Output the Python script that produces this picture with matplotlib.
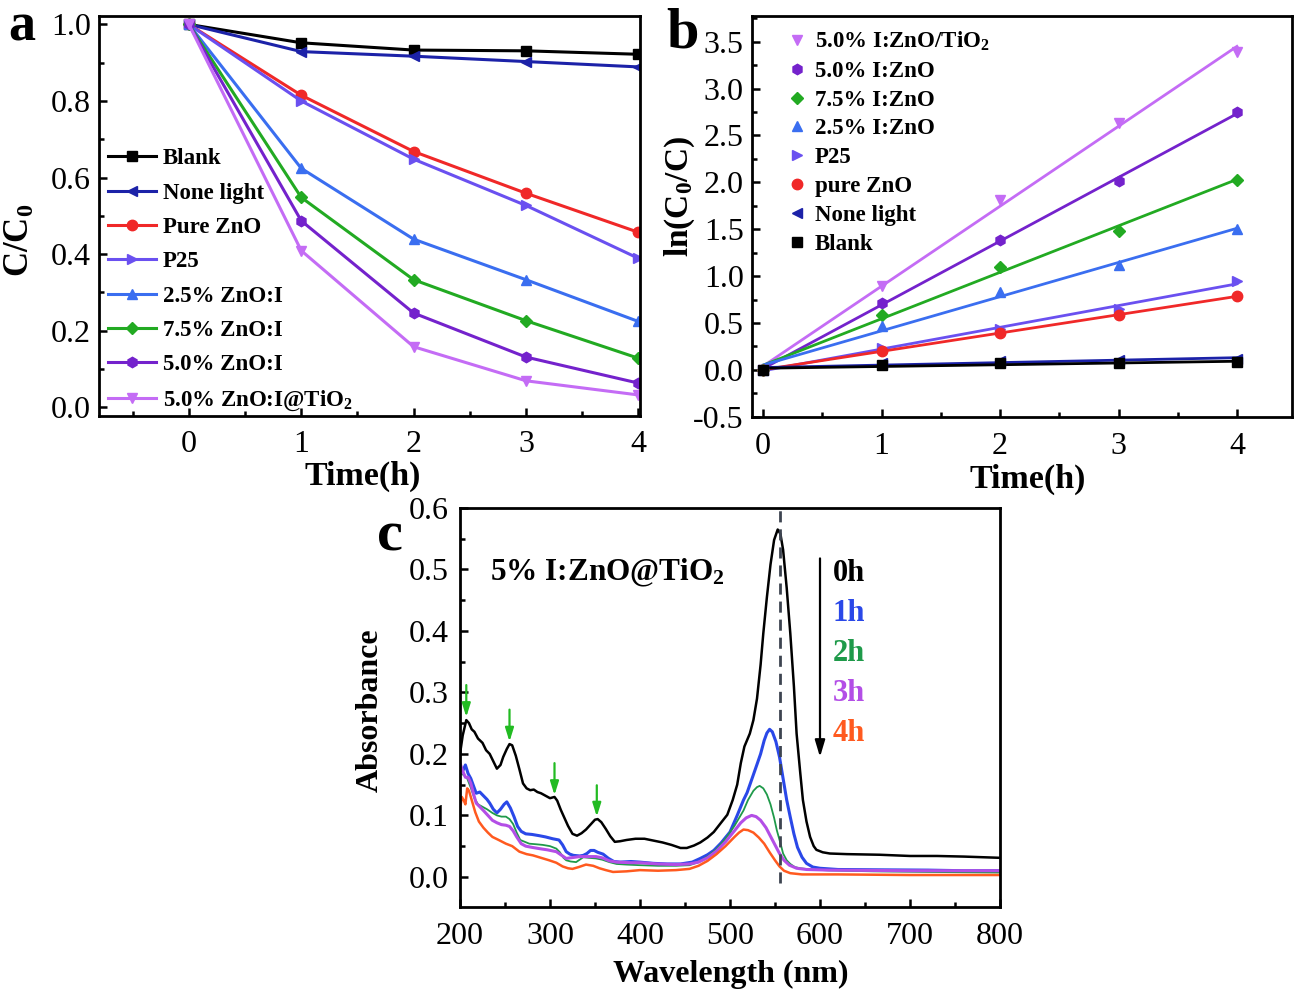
import numpy as np
import matplotlib
matplotlib.use("Agg")
import matplotlib.pyplot as plt
from matplotlib.ticker import MultipleLocator, FormatStrFormatter

plt.rcParams['font.family'] = ['Liberation Serif', 'DejaVu Serif']
plt.rcParams['mathtext.fontset'] = 'custom'
plt.rcParams['mathtext.rm'] = 'Liberation Serif'
plt.rcParams['mathtext.bf'] = 'Liberation Serif:bold'
plt.rcParams['mathtext.it'] = 'Liberation Serif:italic'

# ---------------- data: panel a ----------------
time_h = [0, 1, 2, 3, 4]
a_labels = ["Blank", "None light", "Pure ZnO", "P25", "2.5% ZnO:I", "7.5% ZnO:I",
            "5.0% ZnO:I", r"5.0% ZnO:I@TiO$_\mathbf{2}$"]
cc_blank = [1.0, 0.952, 0.933, 0.931, 0.922]
cc_none = [1.0, 0.929, 0.917, 0.903, 0.889]
cc_zno = [1.0, 0.815, 0.668, 0.559, 0.457]
cc_p25 = [1.0, 0.800, 0.648, 0.527, 0.389]
cc_25 = [1.0, 0.624, 0.439, 0.333, 0.224]
cc_75 = [1.0, 0.548, 0.333, 0.226, 0.128]
cc_50 = [1.0, 0.487, 0.246, 0.131, 0.063]
cc_tio2 = [1.0, 0.409, 0.158, 0.069, 0.032]

# ---------------- data: panel b ----------------
b_labels = [r"5.0% I:ZnO/TiO$_\mathbf{2}$", "5.0% I:ZnO", "7.5% I:ZnO", "2.5% I:ZnO",
            "P25", "pure ZnO", "None light", "Blank"]
ln_tio2 = [0.0, 0.892, 1.81, 2.635, 3.39]
ln_50 = [0.0, 0.715, 1.39, 2.01, 2.75]
ln_75 = [0.0, 0.59, 1.10, 1.483, 2.03]
ln_25 = [0.0, 0.466, 0.825, 1.116, 1.497]
ln_p25 = [0.0, 0.228, 0.44, 0.654, 0.946]
ln_zno = [0.0, 0.20, 0.395, 0.583, 0.786]
ln_none = [0.0, 0.075, 0.090, 0.102, 0.118]
ln_blank = [0.0, 0.050, 0.068, 0.072, 0.082]

# ---------------- data: panel c ----------------
wl_0h = [200, 203, 207, 210, 213, 216, 220, 225, 229, 233, 237, 241, 245, 248, 252, 255, 258,
         262, 266, 270, 274, 278, 282, 286, 290, 295, 300, 305, 308, 312, 316, 320, 325, 330,
         335, 340, 345, 350, 353, 357, 362, 367, 372, 378, 385, 395, 405, 415, 425, 435, 445,
         452, 460, 467, 475, 482, 490, 497, 503, 508, 512, 516, 522, 526, 530, 534, 537, 541,
         545, 549, 553, 556, 559, 563, 567, 571, 574, 578, 581, 585, 589, 593, 596, 603, 611,
         630, 666, 700, 730, 760, 780, 800]
ab_0h = [0.200, 0.230, 0.255, 0.250, 0.240, 0.236, 0.225, 0.218, 0.206, 0.200, 0.188, 0.176,
         0.182, 0.195, 0.208, 0.216, 0.214, 0.197, 0.175, 0.152, 0.144, 0.141, 0.142, 0.138,
         0.136, 0.132, 0.128, 0.130, 0.124, 0.109, 0.096, 0.083, 0.070, 0.067, 0.071, 0.077,
         0.085, 0.093, 0.094, 0.089, 0.078, 0.066, 0.057, 0.058, 0.060, 0.062, 0.062, 0.059,
         0.056, 0.052, 0.047, 0.047, 0.051, 0.056, 0.064, 0.073, 0.088, 0.101, 0.125, 0.150,
         0.185, 0.212, 0.233, 0.255, 0.290, 0.345, 0.396, 0.455, 0.508, 0.548, 0.565, 0.558,
         0.532, 0.470, 0.396, 0.310, 0.233, 0.170, 0.125, 0.090, 0.065, 0.050, 0.044, 0.040,
         0.038, 0.037, 0.036, 0.034, 0.034, 0.033, 0.032, 0.031]

wl_1h = [200, 203, 206, 209, 212, 215, 218, 222, 226, 230, 233, 237, 241, 245, 249, 252, 256,
         260, 264, 268, 273, 280, 288, 295, 303, 310, 314, 318, 322, 326, 333, 337, 341, 345,
         349, 353, 359, 365, 371, 378, 390, 400, 415, 430, 445, 458, 467, 475, 482, 490, 500,
         508, 515, 519, 525, 530, 534, 538, 541, 544, 547, 551, 555, 559, 563, 567, 571, 575,
         580, 585, 592, 600, 620, 666, 720, 760, 800]
ab_1h = [0.175, 0.172, 0.182, 0.168, 0.160, 0.148, 0.136, 0.138, 0.132, 0.126, 0.120, 0.110,
         0.104, 0.110, 0.118, 0.122, 0.112, 0.098, 0.082, 0.074, 0.070, 0.069, 0.067, 0.065,
         0.062, 0.060, 0.052, 0.041, 0.037, 0.035, 0.034, 0.035, 0.038, 0.043, 0.043, 0.040,
         0.037, 0.030, 0.025, 0.024, 0.025, 0.024, 0.022, 0.021, 0.021, 0.024, 0.030, 0.036,
         0.043, 0.055, 0.073, 0.100, 0.125, 0.137, 0.162, 0.183, 0.200, 0.222, 0.234, 0.240,
         0.236, 0.220, 0.195, 0.160, 0.125, 0.097, 0.070, 0.048, 0.032, 0.022, 0.016, 0.014,
         0.012, 0.0115, 0.011, 0.010, 0.010]

wl_2h = [200, 204, 208, 212, 216, 220, 225, 230, 236, 241, 246, 251, 255, 259, 263, 267, 272,
         277, 285, 292, 300, 307, 311, 315, 318, 323, 329, 333, 337, 343, 351, 358, 366, 374,
         385, 400, 420, 440, 455, 465, 475, 485, 495, 505, 515, 520, 526, 530, 533, 537, 541,
         545, 549, 552, 556, 559, 563, 567, 572, 578, 590, 610, 660, 720, 800]
ab_2h = [0.168, 0.166, 0.160, 0.145, 0.128, 0.118, 0.114, 0.110, 0.104, 0.100, 0.098, 0.098,
         0.094, 0.086, 0.072, 0.060, 0.057, 0.054, 0.053, 0.052, 0.050, 0.046, 0.040, 0.031,
         0.027, 0.025, 0.024, 0.028, 0.032, 0.031, 0.030, 0.028, 0.024, 0.021, 0.020, 0.019,
         0.018, 0.018, 0.019, 0.024, 0.033, 0.045, 0.062, 0.083, 0.108, 0.125, 0.140, 0.146,
         0.148, 0.144, 0.134, 0.118, 0.096, 0.076, 0.055, 0.038, 0.027, 0.021, 0.016, 0.014,
         0.012, 0.0105, 0.009, 0.008, 0.007]

wl_3h = [200, 203, 206, 209, 212, 215, 218, 222, 226, 231, 236, 241, 246, 251, 255, 259, 263,
         268, 273, 280, 288, 297, 307, 312, 318, 323, 333, 343, 351, 358, 366, 374, 390, 400,
         420, 440, 455, 465, 475, 485, 495, 505, 512, 518, 524, 529, 534, 540, 545, 550, 555,
         560, 566, 574, 585, 610, 700, 800]
ab_3h = [0.185, 0.172, 0.162, 0.162, 0.152, 0.135, 0.120, 0.114, 0.108, 0.100, 0.092, 0.088,
         0.085, 0.084, 0.082, 0.075, 0.065, 0.054, 0.050, 0.048, 0.046, 0.044, 0.041, 0.036,
         0.030, 0.031, 0.033, 0.033, 0.033, 0.031, 0.026, 0.024, 0.023, 0.023, 0.021, 0.020,
         0.021, 0.024, 0.031, 0.042, 0.057, 0.075, 0.088, 0.096, 0.100, 0.098, 0.092, 0.080,
         0.066, 0.052, 0.038, 0.027, 0.019, 0.014, 0.012, 0.011, 0.010, 0.010]

wl_4h = [200, 202, 204, 206, 208, 210, 213, 217, 221, 226, 231, 236, 243, 251, 258, 266, 274,
         281, 290, 299, 307, 314, 320, 325, 332, 340, 348, 355, 362, 370, 385, 400, 420, 440,
         455, 465, 475, 485, 495, 505, 510, 515, 520, 526, 532, 538, 544, 550, 555, 560, 567,
         580, 620, 700, 800]
ab_4h = [0.110, 0.130, 0.125, 0.118, 0.144, 0.140, 0.125, 0.105, 0.090, 0.080, 0.072, 0.065,
         0.060, 0.054, 0.050, 0.041, 0.037, 0.035, 0.031, 0.027, 0.023, 0.017, 0.014, 0.013,
         0.016, 0.020, 0.018, 0.014, 0.011, 0.008, 0.009, 0.011, 0.010, 0.011, 0.013, 0.018,
         0.026, 0.037, 0.050, 0.065, 0.072, 0.077, 0.076, 0.072, 0.064, 0.054, 0.040, 0.027,
         0.017, 0.010, 0.006, 0.004, 0.004, 0.003, 0.003]

c_labels = ["0h", "1h", "2h", "3h", "4h"]
peak_nm = 555
arrow_nm = [207, 255, 305, 352]
arrow_top = [0.312, 0.272, 0.185, 0.149]
arrow_tip = [0.260, 0.220, 0.133, 0.098]

# ---------------- styles ----------------
a_colors = ['#000000', '#1c22a8', '#f02828', '#6a50f0', '#3a6ef0', '#22aa22', '#7422cc', '#c46cf5']
a_markers = ['s', '<', 'o', '>', '^', 'D', 'h', 'v']
b_colors = ['#c46cf5', '#7422cc', '#22aa22', '#3a6ef0', '#6a50f0', '#f02828', '#1c22a8', '#000000']
b_markers = ['v', 'h', 'D', '^', '>', 'o', '<', 's']
c_colors = ['#000000', '#2a48e8', '#1f9a4a', '#b34ee6', '#ff5a1f']

W, H = 1299, 994
fig = plt.figure(figsize=(W / 100, H / 100), dpi=100)


def ax_px(l, t, r, b):
    return fig.add_axes([l / W, 1 - b / H, (r - l) / W, (b - t) / H])


def style_axes(ax, xmaj, xmin, ymaj, ymin, xpad, ypad):
    for s in ax.spines.values():
        s.set_linewidth(2.0)
    ax.xaxis.set_major_locator(MultipleLocator(xmaj))
    ax.xaxis.set_minor_locator(MultipleLocator(xmin))
    ax.yaxis.set_major_locator(MultipleLocator(ymaj))
    ax.yaxis.set_minor_locator(MultipleLocator(ymin))
    ax.tick_params(which='both', direction='in', top=False, right=False, width=1.8)
    ax.tick_params(which='major', length=6, labelsize=23)
    ax.tick_params(which='minor', length=3.5)
    ax.tick_params(axis='x', which='major', pad=xpad)
    ax.tick_params(axis='y', which='major', pad=ypad)


# ---------------- panel a ----------------
axa = ax_px(99, 16, 640, 416)
a_series = [cc_blank, cc_none, cc_zno, cc_p25, cc_25, cc_75, cc_50, cc_tio2]
for vals, lab, col, mk in zip(a_series, a_labels, a_colors, a_markers):
    ms = 6 if mk == 'D' else 7.5
    axa.plot(time_h, vals, color=col, marker=mk, ms=ms, lw=2.2, label=lab)
axa.set_xlim(-0.8, 4.015)
axa.set_ylim(-0.023, 1.022)
style_axes(axa, 1, 0.5, 0.2, 0.1, 10, 6)
axa.yaxis.set_major_formatter(FormatStrFormatter('%.1f'))
axa.set_xlabel("Time(h)", fontsize=24.5, fontweight='bold')
axa.xaxis.set_label_coords(0.488, -0.15)
axa.xaxis.label.set_va('center')
axa.set_ylabel(r"C/C$_\mathbf{0}$", fontsize=25, fontweight='bold')
axa.yaxis.set_label_coords(-0.146, 0.44)
axa.yaxis.label.set_va('center')
axa.legend(loc='upper left', bbox_to_anchor=(0.016, 0.669), frameon=False,
           prop={'size': 16.5, 'weight': 'bold'}, handlelength=2.1, handletextpad=0.3,
           labelspacing=0.58, borderpad=0, borderaxespad=0)

# ---------------- panel b ----------------
axb = ax_px(752, 16, 1292, 417)
b_series = [ln_tio2, ln_50, ln_75, ln_25, ln_p25, ln_zno, ln_none, ln_blank]
for vals, lab, col, mk in zip(b_series, b_labels, b_colors, b_markers):
    ms = 6 if mk == 'D' else 7.5
    k, c0 = np.polyfit(time_h, vals, 1)
    fit = np.polyval([k, c0], time_h)
    axb.plot(time_h, fit, color=col, lw=2.0, zorder=2)
    axb.plot(time_h, vals, color=col, marker=mk, ms=ms, ls='none', label=lab, zorder=3)
axb.set_xlim(-0.095, 4.465)
axb.set_ylim(-0.503, 3.774)
style_axes(axb, 1, 0.5, 0.5, 0.25, 11, 6)
axb.yaxis.set_major_formatter(FormatStrFormatter('%.1f'))
axb.set_xlabel("Time(h)", fontsize=24.5, fontweight='bold')
axb.xaxis.set_label_coords(0.511, -0.155)
axb.xaxis.label.set_va('center')
axb.set_ylabel(r"ln(C$_\mathbf{0}$/C)", fontsize=24, fontweight='bold')
axb.yaxis.set_label_coords(-0.133, 0.549)
axb.yaxis.label.set_va('center')
axb.legend(loc='upper left', bbox_to_anchor=(0.063, 0.966), frameon=False,
           prop={'size': 16.5, 'weight': 'bold'}, handlelength=1.0, handletextpad=0.25,
           labelspacing=0.34, borderpad=0, borderaxespad=0)

# ---------------- panel c ----------------
axc = ax_px(460, 508, 1000, 907)
c_wl = [wl_0h, wl_1h, wl_2h, wl_3h, wl_4h]
c_ab = [ab_0h, ab_1h, ab_2h, ab_3h, ab_4h]
c_lw = [1.8, 2.2, 1.3, 2.2, 1.8]
for wl, ab, col, lw in zip(c_wl, c_ab, c_colors, c_lw):
    axc.plot(wl, ab, color=col, lw=lw)
axc.axvline(peak_nm, ymin=0.06, ymax=1, color='#3d4450', lw=2.0, ls=(0, (4, 2.5)))
for xn, yt, yb in zip(arrow_nm, arrow_top, arrow_tip):
    axc.annotate("", xy=(xn, yb), xytext=(xn, yt),
                 arrowprops=dict(arrowstyle='-|>,head_length=0.8,head_width=0.25',
                                 color='#22bb22', lw=1.6, shrinkA=0, shrinkB=0))
axc.annotate("", xy=(600, 0.195), xytext=(600, 0.518),
             arrowprops=dict(arrowstyle='-|>,head_length=1.0,head_width=0.3',
                             color='black', lw=1.6, shrinkA=0, shrinkB=0))
label_y = [0.493, 0.429, 0.364, 0.299, 0.234]
for lab, col, yy in zip(c_labels, c_colors, label_y):
    axc.text(614, yy, lab, color=col, fontsize=22, fontweight='bold', va='center', ha='left')
axc.text(233, 0.495, r"5% I:ZnO@TiO$_\mathbf{2}$", fontsize=22.5, fontweight='bold',
         va='center', ha='left')
axc.set_xlim(200, 800)
axc.set_ylim(-0.049, 0.6)
style_axes(axc, 100, 50, 0.1, 0.05, 11, 8)
axc.yaxis.set_major_formatter(FormatStrFormatter('%.1f'))
axc.set_xlabel("Wavelength (nm)", fontsize=23, fontweight='bold')
axc.xaxis.set_label_coords(0.502, -0.170)
axc.xaxis.label.set_va('center')
axc.set_ylabel("Absorbance", fontsize=23, fontweight='bold')
axc.yaxis.set_label_coords(-0.167, 0.494)
axc.yaxis.label.set_va('center')

# panel letters (mathtext gives glyph-tight extents)
fig.text(8 / W, 1 - 39 / H, r"$\mathbf{a}$", fontsize=39, va='baseline', ha='left')
fig.text(666 / W, 1 - 47 / H, r"$\mathbf{b}$", fontsize=42, va='baseline', ha='left')
fig.text(376 / W, 1 - 550 / H, r"$\mathbf{c}$", fontsize=42, va='baseline', ha='left')

fig.savefig("out.png", dpi=100)
